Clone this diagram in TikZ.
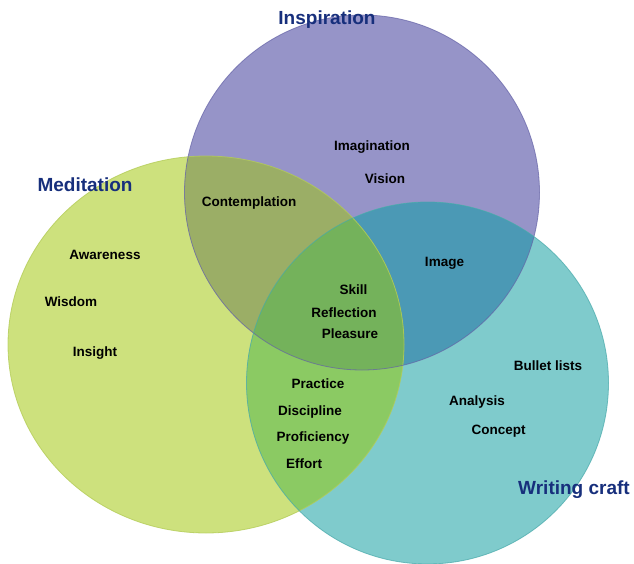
\documentclass[tikz,border=0pt]{standalone}
\usepackage{fontspec}
\setmainfont{Liberation Sans}
\definecolor{medc}{HTML}{CDE17D}
\definecolor{insc}{HTML}{9694C8}
\definecolor{wrc}{HTML}{7FCBCC}
\definecolor{mic}{HTML}{9BAE66}
\definecolor{iwc}{HTML}{4B99B5}
\definecolor{mwc}{HTML}{8BCA63}
\definecolor{miwc}{HTML}{74B25B}
\definecolor{titlec}{HTML}{172F7C}
\definecolor{meded}{HTML}{B4CC58}
\definecolor{insed}{HTML}{6462A6}
\definecolor{wred}{HTML}{46A8A9}
\tikzset{
  lbl/.style={font=\fontsize{13.5}{16}\selectfont\bfseries, text=black, inner sep=0pt},
  ttl/.style={font=\fontsize{19}{22}\selectfont\bfseries, text=titlec, inner sep=0pt},
}
\begin{document}
\begin{tikzpicture}[x=1pt,y=-1pt]
\useasboundingbox (0,0) rectangle (634,564);
\def\medpath{(206,344.5) ellipse [x radius=198, y radius=188.5]}
\def\inspath{(362,192.5) circle [radius=177.5]}
\def\wrpath{(427.5,383) circle [radius=181]}
% base fills
\fill[medc] \medpath;
\fill[insc] \inspath;
\fill[wrc] \wrpath;
% pair overlaps
\begin{scope}
  \clip \inspath;
  \fill[iwc] \wrpath;
\end{scope}
\begin{scope}
  \clip \medpath;
  \fill[mic] \inspath;
  \fill[mwc] \wrpath;
\end{scope}
\begin{scope}
  \clip \medpath;
  \clip \inspath;
  \fill[miwc] \wrpath;
\end{scope}
% outlines
\draw[meded, line width=0.8pt, opacity=0.8] \medpath;
\draw[insed, line width=0.8pt, opacity=0.7] \inspath;
\draw[wred, line width=0.8pt, opacity=0.7] \wrpath;
% titles
\node[ttl] (tins) at (327,20) {Inspiration};
\node[ttl] (tmed) at (85,185) {Meditation};
\node[ttl] (twr) at (574,490) {Writing craft};
% labels
\node[lbl] (imag) at (372,147) {Imagination};
\node[lbl] (vis) at (385,179) {Vision};
\node[lbl] (cont) at (249,203) {Contemplation};
\node[lbl] (aware) at (105,255) {Awareness};
\node[lbl] (wis) at (71,302) {Wisdom};
\node[lbl] (ins) at (95,353) {Insight};
\node[lbl] (img) at (444.5,263) {Image};
\node[lbl] (skill) at (353.5,290) {Skill};
\node[lbl] (refl) at (344,313) {Reflection};
\node[lbl] (pleas) at (350,334) {Pleasure};
\node[lbl] (prac) at (318,384) {Practice};
\node[lbl] (disc) at (310,412) {Discipline};
\node[lbl] (prof) at (313,438) {Proficiency};
\node[lbl] (eff) at (304,464) {Effort};
\node[lbl] (bull) at (548,366) {Bullet lists};
\node[lbl] (anal) at (477,402) {Analysis};
\node[lbl] (conc) at (498.5,431) {Concept};
\end{tikzpicture}
\end{document}
